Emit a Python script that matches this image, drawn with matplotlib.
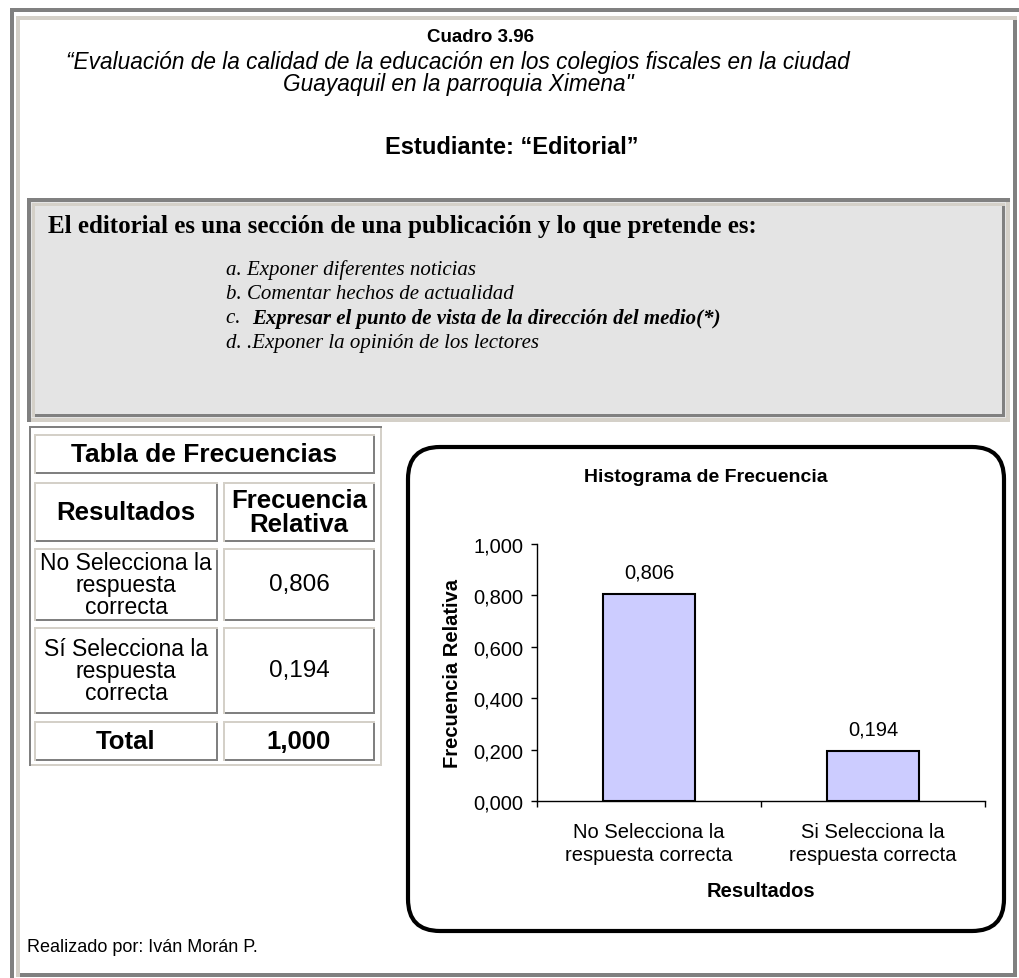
import matplotlib.pyplot as plt
from matplotlib.patches import Rectangle, FancyBboxPatch

# datos
categorias = ["No Selecciona la\nrespuesta correcta", "Si Selecciona la\nrespuesta correcta"]
frecuencias = [0.806, 0.194]
y_ticks = [0.0, 0.2, 0.4, 0.6, 0.8, 1.0]
filas_tabla = ["No Selecciona la\nrespuesta\ncorrecta", "Sí Selecciona la\nrespuesta\ncorrecta"]
pregunta = "El editorial es una sección de una publicación y lo que pretende es:"
opciones = ["a. Exponer diferentes noticias",
            "b. Comentar hechos de actualidad",
            "c.  ",
            "d. .Exponer la opinión de los lectores"]
opcion_correcta = "Expresar el punto de vista de la dirección del medio(*)"


def fmt(v):
    return f"{v:.3f}".replace(".", ",")


GRAY = "#808080"
BEIGE = "#d4d0c8"
SANS = "Liberation Sans"
SERIF = "Liberation Serif"

fig = plt.figure(figsize=(10.2, 9.79), dpi=100)
bg = fig.add_axes([0, 0, 1, 1])
bg.set_xlim(0, 1020)
bg.set_ylim(979, 0)
bg.axis("off")


def band(x0, y0, x1, y1, color):
    bg.add_patch(Rectangle((x0, y0), x1 - x0, y1 - y0, color=color, lw=0))


def frame(x0, y0, x1, y1, tl, br, w=3):
    band(x0, y0, x1, y0 + w, tl)
    band(x0, y0, x0 + w, y1, tl)
    band(x1 - w, y0 + w, x1, y1, br)
    band(x0 + w, y1 - w, x1, y1, br)


# marco de la pagina
band(10, 9, 1020, 13, GRAY)
band(10, 9, 14, 979, GRAY)
frame(16, 17, 1017, 978, BEIGE, GRAY, 4)

# encabezado
bg.text(481, 38, "Cuadro 3.96", ha="center", va="center", fontsize=13.5, fontweight="bold", family=SANS)
bg.text(458, 62, "“Evaluación de la calidad de la educación en los colegios fiscales en la ciudad",
        ha="center", va="center", fontsize=16.3, style="italic", family=SANS)
bg.text(458, 85, "Guayaquil en la parroquia Ximena\"", ha="center", va="center",
        fontsize=16.3, style="italic", family=SANS)
bg.text(512, 148, "Estudiante: “Editorial”", ha="center", va="center", fontsize=17,
        fontweight="bold", family=SANS)

# recuadro de la pregunta
bg.add_patch(Rectangle((27, 199), 983, 224, color="#e4e4e4", lw=0))
frame(27, 199, 1010, 423, GRAY, BEIGE, 4)
frame(32, 204, 1005, 418, BEIGE, GRAY, 3)
bg.text(48, 226, pregunta, ha="left", va="center", fontsize=18, fontweight="bold", family=SERIF)
for i, op in enumerate(opciones):
    bg.text(226, 270 + i * 24.5, op, ha="left", va="center", fontsize=15, style="italic", family=SERIF)
bg.text(252, 270 + 2 * 24.5, opcion_correcta, ha="left", va="center", fontsize=15,
        style="italic", fontweight="bold", family=SERIF)

# tabla de frecuencias
frame(29, 427, 382, 767, GRAY, BEIGE, 2)
rows = [(435, 475), (483, 543), (549, 622), (628, 715), (722, 762)]
cols = [(34, 218), (223, 375)]
frame(34, 435, 375, 475, BEIGE, GRAY, 2)
for r in rows[1:]:
    for c in cols:
        frame(c[0], r[0], c[1], r[1], BEIGE, GRAY, 2)


def cell(r, c, txt, bold=False, size=16.5, ls=1.0):
    y = (rows[r][0] + rows[r][1]) / 2
    x = (cols[c][0] + cols[c][1]) / 2
    bg.text(x, y, txt, ha="center", va="center", fontsize=size, family=SANS,
            fontweight="bold" if bold else "normal", linespacing=ls)


bg.text(204, 455, "Tabla de Frecuencias", ha="center", va="center", fontsize=19,
        fontweight="bold", family=SANS)
cell(1, 0, "Resultados", bold=True, size=18.5)
cell(1, 1, "Frecuencia\nRelativa", bold=True, size=18.5)
for i, (txt, v) in enumerate(zip(filas_tabla, frecuencias)):
    cell(2 + i, 0, txt, size=16.5, ls=0.93)
    cell(2 + i, 1, fmt(v), size=17.5)
cell(4, 0, "Total", bold=True, size=18.5)
cell(4, 1, fmt(sum(frecuencias)), bold=True, size=18.5)

# recuadro redondeado del grafico
bg.add_patch(FancyBboxPatch((408, 448), 596, 484, boxstyle="round,pad=0,rounding_size=32",
                            fc="white", ec="black", lw=3))
bg.text(706, 478, "Histograma de Frecuencia", ha="center", va="center", fontsize=14,
        fontweight="bold", family=SANS)

bg.text(27, 948, "Realizado por: Iván Morán P.", ha="left", va="center", fontsize=13, family=SANS)

# grafico de barras
W, H = 1020, 979
ax = fig.add_axes([537 / W, 1 - 802 / H, (985 - 537) / W, (802 - 545) / H])
x = range(len(frecuencias))
ax.bar(x, frecuencias, width=0.41, color="#ccccff", edgecolor="black", linewidth=1.5)
for i, v in enumerate(frecuencias):
    ax.text(i, v + 0.05, fmt(v), ha="center", va="bottom", fontsize=14.5, family=SANS)
ax.set_xlim(-0.5, len(frecuencias) - 0.5)
ax.set_ylim(0, 1)
ax.set_yticks(y_ticks)
ax.set_yticklabels([fmt(t) for t in y_ticks], fontsize=14.5, family=SANS)
ax.set_xticks([-0.5, 0.5, 1.5])
ax.set_xticklabels([])
ax.set_xticks(list(x), minor=True)
ax.set_xticklabels(categorias, minor=True, fontsize=14.5, family=SANS, linespacing=1.3)
ax.tick_params(axis="x", which="minor", length=0, pad=15)
ax.tick_params(axis="both", which="major", length=4, width=1, direction="out")
ax.tick_params(axis="y", pad=6)
for s in ["top", "right"]:
    ax.spines[s].set_visible(False)
for s in ["left", "bottom"]:
    ax.spines[s].set_linewidth(1)
ax.set_ylabel("Frecuencia Relativa", fontsize=14.5, fontweight="bold", family=SANS, labelpad=8)
ax.set_xlabel("Resultados", fontsize=14.5, fontweight="bold", family=SANS, labelpad=12)

fig.savefig("out.png", dpi=100)
